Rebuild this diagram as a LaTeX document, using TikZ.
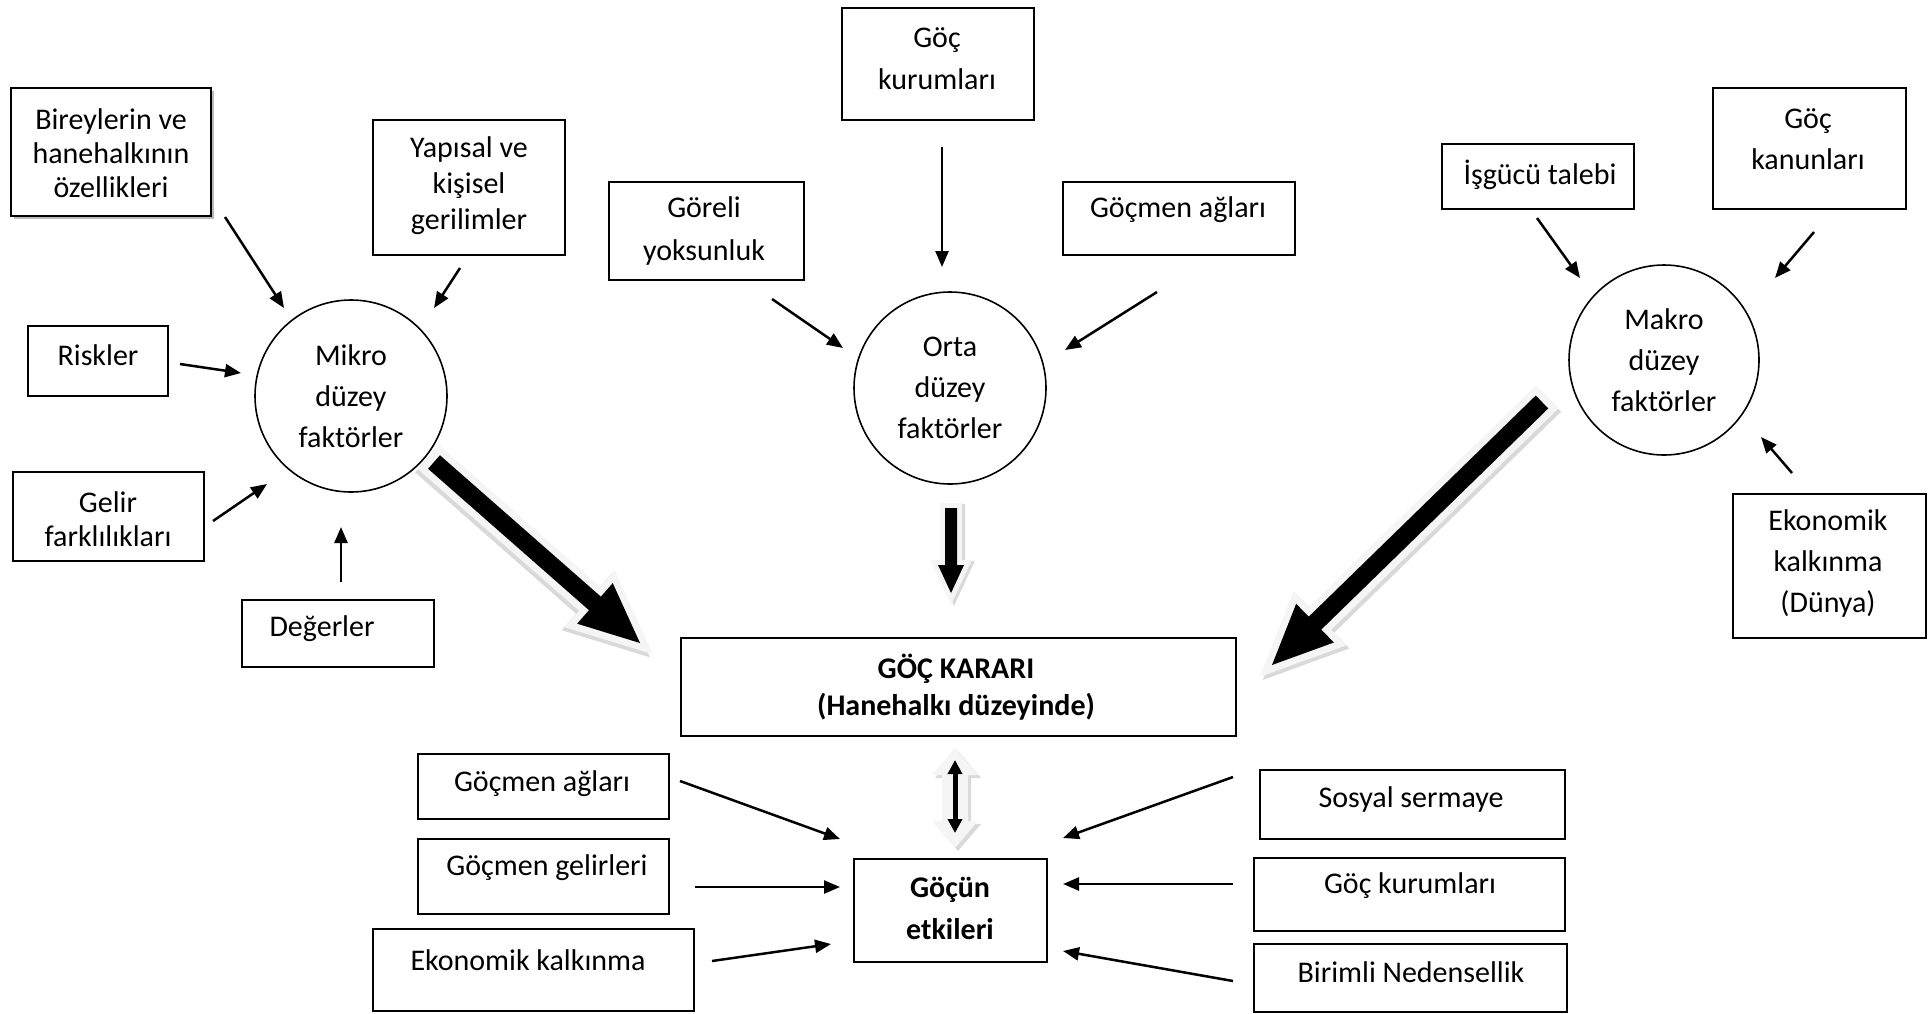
\documentclass[tikz,border=0pt]{standalone}
\usepackage{fontspec}
\setmainfont{Carlito}
\usetikzlibrary{calc,arrows.meta}
\newcommand{\fs}[1]{\fontsize{15}{#1}\selectfont}
\newcommand{\bx}[5]{\node[box, minimum width={(#4-#2)*0.5pt}, minimum height={(#5-#3)*0.5pt}] (#1) at (#2,#3) {};}
\newcommand{\blockarrow}[6]{%
  \coordinate (tmpH) at ($(#3)!#6!(#2)$);
  \filldraw[#1] ($(#2)!#4!90:(#3)$) -- ($(tmpH)!#4!90:(#3)$) -- ($(tmpH)!#5!90:(#3)$) -- (#3)
    -- ($(tmpH)!#5!-90:(#3)$) -- ($(tmpH)!#4!-90:(#3)$) -- ($(#2)!#4!-90:(#3)$) -- cycle;}
\begin{document}
\begin{tikzpicture}[x=0.5pt,y=-0.5pt,
  box/.style={draw=black, line width=1pt, fill=white, inner sep=0pt, anchor=north west},
  txt/.style={inner sep=0pt, align=center, font=\fs{17}},
  circ/.style={draw=black, line width=0.8pt, circle, inner sep=0pt, align=center, font=\fs{20.5}},
  arr/.style={line width=1.25pt, -{Triangle[length=8pt,width=6.5pt]}},
  shadowst/.style={draw=gray!30, fill=gray!30, line width=7pt, line join=miter},
  halost/.style={draw=gray!8, fill=gray!8, line width=7pt, line join=miter},
  blackst/.style={fill=black, draw=none}]
\useasboundingbox (0,0) rectangle (1930,1013);
\fill[white] (0,0) rectangle (1930,1013);

% shadow of first box
\fill[gray!55] (14,91) rectangle (214,219);
% boxes
\bx{bir}{10}{87}{210}{215}
\bx{yap}{372}{119}{564}{254}
\bx{ris}{27}{325}{167}{395}
\bx{gel}{12}{471}{203}{560}
\bx{deg}{241}{599}{433}{666}
\bx{gor}{608}{181}{803}{279}
\bx{gkt}{841}{7}{1033}{119}
\bx{gat}{1062}{181}{1294}{254}
\bx{isg}{1441}{143}{1633}{208}
\bx{gkn}{1712}{87}{1905}{208}
\bx{eko}{1732}{493}{1925}{637}
\bx{kar}{680}{637}{1235}{735}
\bx{gab}{417}{753}{668}{818}
\bx{geg}{417}{838}{668}{913}
\bx{ekk}{372}{928}{693}{1010}
\bx{etk}{853}{858}{1046}{961}
\bx{sos}{1259}{769}{1564}{838}
\bx{gkb}{1253}{857}{1564}{930}
\bx{bnd}{1253}{943}{1566}{1011}

% texts
\node[txt, font=\fs{17}] (birt) at (111,153) {Bireylerin ve\\hanehalkının\\özellikleri};
\node[txt, font=\fs{18}] (yapt) at (469,186) {Yapısal ve\\kişisel\\gerilimler};
\node[txt] (rist) at (98,355) {Riskler};
\node[txt, font=\fs{17.2}] (gelt) at (108,519) {Gelir\\farklılıkları};
\node[txt] (degt) at (322,629) {Değerler};
\node[txt, font=\fs{21.5}] (gort) at (704,231) {Göreli\\yoksunluk};
\node[txt, font=\fs{21}] (gktt) at (937,59) {Göç\\kurumları};
\node[txt] (gatt) at (1178,210) {Göçmen ağları};
\node[txt] (isgt) at (1540,175) {İşgücü talebi};
\node[txt, font=\fs{20.5}] (gknt) at (1808,139) {Göç\\kanunları};
\node[txt, font=\fs{20.5}] (ekot) at (1828,563) {Ekonomik\\kalkınma\\(Dünya)};
\node[txt, font={\fs{18.5}\bfseries}] (kart) at (956,687) {GÖÇ KARARI\\(Hanehalkı düzeyinde)};
\node[txt] (gabt) at (542,784) {Göçmen ağları};
\node[txt] (gegt) at (547,868) {Göçmen gelirleri};
\node[txt] (ekkt) at (528,960) {Ekonomik kalkınma};
\node[txt, font={\fs{21}\bfseries}] (etkt) at (950,908) {Göçün\\etkileri};
\node[txt] (sost) at (1411,799) {Sosyal sermaye};
\node[txt] (gkbt) at (1410,886) {Göç kurumları};
\node[txt] (bndt) at (1411,972) {Birimli Nedensellik};

% circles
\node[circ, minimum size={192*0.5pt}, fill=white] (mik) at (351,396) {Mikro\\düzey\\faktörler};
\node[circ, minimum size={192*0.5pt}, fill=white] (ort) at (950,388) {Orta\\düzey\\faktörler};
\node[circ, minimum size={190*0.5pt}, fill=white] (mak) at (1664,360) {Makro\\düzey\\faktörler};

% thin arrows: named end points
\coordinate (a1s) at (225,217);  \coordinate (a1e) at (284,308);
\coordinate (a2s) at (460,268);  \coordinate (a2e) at (434,308);
\coordinate (a3s) at (180,364);  \coordinate (a3e) at (241,373);
\coordinate (a4s) at (213,521);  \coordinate (a4e) at (267,484);
\coordinate (a5s) at (341,582);  \coordinate (a5e) at (341,527);
\coordinate (a6s) at (772,299);  \coordinate (a6e) at (843,348);
\coordinate (a7s) at (942,147);  \coordinate (a7e) at (942,267);
\coordinate (a8s) at (1157,292); \coordinate (a8e) at (1065,350);
\coordinate (a9s) at (1537,218); \coordinate (a9e) at (1580,278);
\coordinate (a10s) at (1814,232); \coordinate (a10e) at (1775,278);
\coordinate (a11s) at (1792,473); \coordinate (a11e) at (1761,437);
\coordinate (a12s) at (680,781); \coordinate (a12e) at (840,839);
\coordinate (a13s) at (695,887); \coordinate (a13e) at (840,887);
\coordinate (a14s) at (712,961); \coordinate (a14e) at (831,944);
\coordinate (a15s) at (1233,777); \coordinate (a15e) at (1063,838);
\coordinate (a16s) at (1233,884); \coordinate (a16e) at (1063,884);
\coordinate (a17s) at (1233,981); \coordinate (a17e) at (1063,951);
\foreach \i in {1,...,17} {\draw[arr] (a\i s) -- (a\i e);}

% thick block arrows
\coordinate (m1s) at (434,462); \coordinate (m1e) at (640,643);
\coordinate (m2s) at (1542,402); \coordinate (m2e) at (1272,665);
\coordinate (m3s) at (951,508); \coordinate (m3e) at (951,593);
\begin{scope}[transform canvas={shift={(-1.5pt,-1.5pt)}}]
\blockarrow{shadowst}{m1s}{m1e}{4.5pt}{13.5pt}{30pt}
\end{scope}
\blockarrow{halost}{m1s}{m1e}{4.5pt}{13.5pt}{30pt}
\blockarrow{blackst}{m1s}{m1e}{4.5pt}{13.5pt}{30pt}
\begin{scope}[transform canvas={shift={(1.5pt,-1.5pt)}}]
\blockarrow{shadowst}{m2s}{m2e}{4.5pt}{13.5pt}{30pt}
\end{scope}
\blockarrow{halost}{m2s}{m2e}{4.5pt}{13.5pt}{30pt}
\blockarrow{blackst}{m2s}{m2e}{4.5pt}{13.5pt}{30pt}
\begin{scope}[transform canvas={shift={(1.5pt,-0.5pt)}}]
\blockarrow{shadowst, line width=5pt}{m3s}{m3e}{3pt}{6.5pt}{14pt}
\end{scope}
\blockarrow{halost, line width=5pt}{m3s}{m3e}{3pt}{6.5pt}{14pt}
\blockarrow{blackst}{m3s}{m3e}{3pt}{6.5pt}{14pt}

% double arrow between decision and effects
\fill[gray!30] (958,751) -- (981,778) -- (971,778) -- (971,824) -- (981,824) -- (958,851) -- (935,824) -- (945,824) -- (945,778) -- (935,778) -- cycle;
\fill[gray!8] (955,748) -- (978,775) -- (968,775) -- (968,821) -- (978,821) -- (955,848) -- (932,821) -- (942,821) -- (942,775) -- (932,775) -- cycle;
\coordinate (dtop) at (955,760); \coordinate (dbot) at (955,833);
\draw[line width=2.5pt, {Triangle[length=7pt,width=7pt]}-{Triangle[length=7pt,width=7pt]}] (dtop) -- (dbot);
\end{tikzpicture}
\end{document}
